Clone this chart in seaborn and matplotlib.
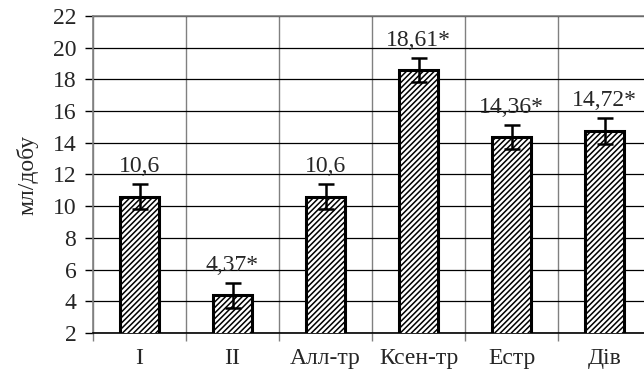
import pandas as pd
import matplotlib
matplotlib.use("Agg")
import matplotlib.pyplot as plt
import seaborn as sns

# data
groups = ["I", "II", "Алл-тр", "Ксен-тр", "Естр", "Дів"]
values = [10.6, 4.37, 10.6, 18.61, 14.36, 14.72]
errors = [0.8, 0.8, 0.8, 0.76, 0.78, 0.82]
labels = ["10,6", "4,37*", "10,6", "18,61*", "14,36*", "14,72*"]
y_ticks = list(range(2, 23, 2))

df = pd.DataFrame({"group": groups, "value": values})

sns.set_theme(style="white")
plt.rcParams["font.family"] = ["Liberation Serif", "DejaVu Serif"]
plt.rcParams["hatch.linewidth"] = 1.1

fs = 17

fig = plt.figure(figsize=(6.44, 3.83), dpi=100)
ax = fig.add_axes([93 / 644, 50 / 383, 558 / 644, 317 / 383])

sns.barplot(data=df, x="group", y="value", ax=ax, color="white",
            edgecolor="black", linewidth=2.2, width=0.41,
            hatch="//////", errorbar=None, zorder=3)

ax.errorbar(range(len(groups)), values, yerr=errors, fmt="none",
            ecolor="black", elinewidth=1.8, capsize=6, capthick=1.8, zorder=4)

for i, (v, e, t) in enumerate(zip(values, errors, labels)):
    ax.text(i, v + e + 0.76, t, ha="center", va="baseline", fontsize=fs, zorder=5)

ax.set_ylim(2, 22)
ax.set_xlim(-0.5, 5.5)
ax.set_yticks(y_ticks)
ax.yaxis.grid(True, color="black", linewidth=0.9, zorder=0)

# category boundaries as gridlines, labels at centers
ax.set_xticks([i - 0.5 for i in range(len(groups) + 1)])
ax.set_xticklabels([])
ax.set_xticks(range(len(groups)), minor=True)
ax.set_xticklabels(groups, minor=True)
ax.xaxis.grid(True, which="major", color="#808080", linewidth=1.0, zorder=0)
ax.tick_params(axis="x", which="major", length=6, width=1, color="#808080",
               direction="out", bottom=True)
ax.tick_params(axis="x", which="minor", length=0, pad=11, labelsize=fs)
ax.tick_params(axis="y", length=6, width=1, color="black", direction="out",
               left=True, labelsize=fs, pad=6)

for side in ["top", "right", "left"]:
    ax.spines[side].set_color("#808080")
    ax.spines[side].set_linewidth(1.2)
ax.spines["bottom"].set_color("black")
ax.spines["bottom"].set_linewidth(1.2)

ax.set_xlabel("")
ax.set_ylabel("мл/добу", fontsize=fs, labelpad=10)

fig.savefig("out.png", dpi=100)
